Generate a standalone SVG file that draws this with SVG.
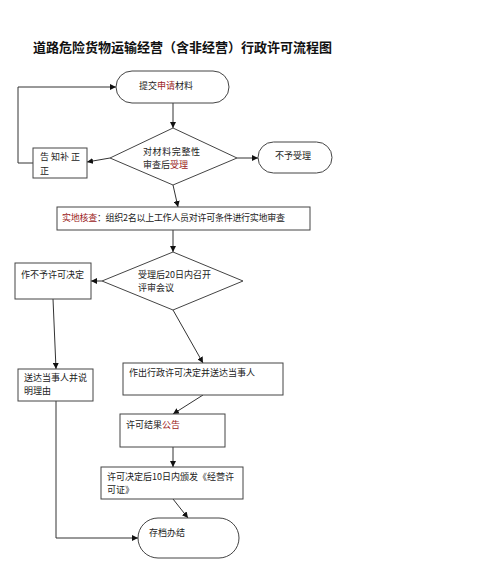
<svg xmlns="http://www.w3.org/2000/svg" width="500" height="584" viewBox="0 0 500 584">
<defs>
<marker id="arr" markerWidth="6" markerHeight="6" refX="6" refY="3" orient="auto" markerUnits="userSpaceOnUse">
<path d="M0,0 L6,3 L0,6 z" fill="#111"/>
</marker>
<style>
.n{fill:#fff;stroke:#444;stroke-width:1}
.t{font-family:"Noto Sans CJK SC","Noto Sans",sans-serif;font-size:9px;fill:#222}
.r{fill:#9b1c1c}
.c{fill:none;stroke:#333;stroke-width:1;marker-end:url(#arr)}
.title{font-family:"Noto Sans CJK SC",sans-serif;font-size:13px;font-weight:bold;fill:#111}
</style>
</defs>
<rect width="500" height="584" fill="#fff"/>
<text class="title" x="33" y="52" textLength="299">道路危险货物运输经营（含非经营）行政许可流程图</text>

<g id="connectors">
<line class="c" x1="173" y1="103" x2="173" y2="128"/>
<line class="c" x1="237" y1="158" x2="258" y2="158"/>
<line class="c" x1="110" y1="158" x2="87" y2="162"/>
<polyline class="c" points="33,163 18,163 18,87 116,87"/>
<line class="c" x1="173" y1="185" x2="178" y2="207"/>
<line class="c" x1="173" y1="230" x2="173" y2="252"/>
<line class="c" x1="102" y1="281" x2="91" y2="281"/>
<line class="c" x1="53" y1="299" x2="56" y2="369"/>
<line class="c" x1="173" y1="310" x2="203" y2="363"/>
<line class="c" x1="203" y1="395" x2="173" y2="414"/>
<line class="c" x1="173" y1="447" x2="173" y2="467"/>
<line class="c" x1="173" y1="499" x2="188" y2="518"/>
<polyline class="c" points="56,401 56,538 138,538"/>
</g>

<g id="submit">
<rect class="n" x="116" y="71" width="113" height="32" rx="16"/>
<text class="t" x="139" y="89">提交<tspan class="r">申请</tspan>材料</text>
</g>

<g id="check">
<polygon class="n" points="173,128 237,158 173,185 110,158"/>
<text class="t" x="143" y="155" textLength="57">对材料完整性</text>
<text class="t" x="143" y="168">审查后<tspan class="r">受理</tspan></text>
</g>

<g id="reject">
<rect class="n" x="258" y="142" width="74" height="31" rx="15.5"/>
<text class="t" x="275" y="159">不予受理</text>
</g>

<g id="notify">
<rect class="n" x="33" y="148" width="54" height="30"/>
<text class="t" x="40" y="160" textLength="40">告 知补 正</text>
<text class="t" x="40" y="174">正</text>
</g>

<g id="inspect">
<rect class="n" x="57" y="207" width="253" height="23"/>
<text class="t" x="62" y="221" textLength="223"><tspan class="r">实地核查</tspan>：组织2名以上工作人员对许可条件进行实地审查</text>
</g>

<g id="review">
<polygon class="n" points="173,252 243,281 173,310 102,281"/>
<text class="t" x="138" y="278">受理后20日内召开</text>
<text class="t" x="138" y="291">评审会议</text>
</g>

<g id="deny">
<rect class="n" x="15" y="263" width="76" height="36"/>
<text class="t" x="21" y="278">作不予许可决定</text>
</g>

<g id="deliver-reason">
<rect class="n" x="18" y="369" width="75" height="32"/>
<text class="t" x="24" y="381">送达当事人并说</text>
<text class="t" x="24" y="394">明理由</text>
</g>

<g id="grant">
<rect class="n" x="123" y="363" width="160" height="32"/>
<text class="t" x="129" y="376">作出行政许可决定并送达当事人</text>
</g>

<g id="announce">
<rect class="n" x="120" y="414" width="105" height="33"/>
<text class="t" x="126" y="428">许可结果<tspan class="r">公告</tspan></text>
</g>

<g id="issue">
<rect class="n" x="101" y="467" width="142" height="32"/>
<text class="t" x="107" y="480">许可决定后10日内颁发《经营许</text>
<text class="t" x="107" y="493">可证》</text>
</g>

<g id="archive">
<rect class="n" x="138" y="518" width="101" height="40" rx="20"/>
<text class="t" x="149" y="536">存档办结</text>
</g>
</svg>
